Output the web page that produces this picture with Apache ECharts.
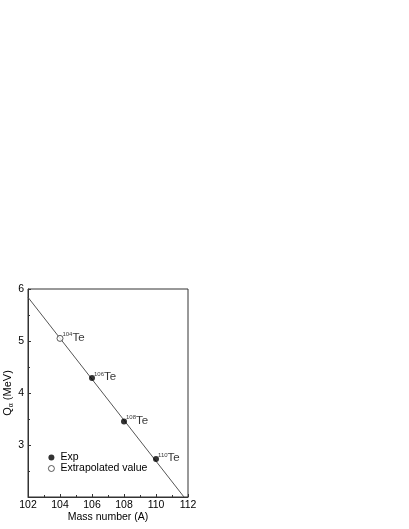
<!DOCTYPE html>
<html style="height: 100%">

<head>
    <meta charset="utf-8">
</head>

<body style="height: 100%; margin: 0; background: #fff">
    <div id="container" style="height: 100%"></div>

    <script src="https://cdn.jsdelivr.net/npm/echarts@6/dist/echarts.min.js"></script>

    <script type="text/javascript">
        // 数据
        var expMass = [106, 108, 110];
        var expQ = [4.29, 3.45, 2.73];
        var extMass = [104];
        var extQ = [5.05];
        var fitMass = [102, 111.75];
        var fitQ = [5.84, 2.0];
        var xTicks = [102, 104, 106, 108, 110, 112];
        var yTicks = [3, 4, 5, 6];

        var myChart = echarts.init(document.getElementById('container'));

        var font = "'Liberation Sans', Arial, sans-serif";

        function isoLabel(mass) {
            return '{sup|' + mass + '}{el|Te}';
        }
        var labelRich = {
            sup: { fontSize: 6, fontFamily: font, color: '#000', verticalAlign: 'top', padding: [0, 0, 5, 0] },
            el: { fontSize: 11.5, fontFamily: font, color: '#000' }
        };

        function pairs(xs, ys) {
            return xs.map(function (x, i) { return [x, ys[i]]; });
        }

        var option = {
            animation: false,
            grid: {
                left: 28,
                right: 221,
                top: 289,
                bottom: 32,
                show: true,
                borderColor: '#333',
                borderWidth: 1
            },
            legend: {
                orient: 'vertical',
                left: 43,
                top: 447,
                itemWidth: 6,
                itemHeight: 6,
                itemGap: 0,
                textStyle: { fontFamily: font, fontSize: 10.5, color: '#000', padding: [0, 0, 0, 1] },
                data: [
                    { name: 'Exp', icon: 'circle', itemStyle: { color: '#000', borderWidth: 0 } },
                    { name: 'Extrapolated value', icon: 'circle', itemStyle: { color: '#fff', borderColor: '#000', borderWidth: 0.8 } }
                ]
            },
            xAxis: {
                type: 'value',
                min: 102,
                max: 112,
                interval: 2,
                name: 'Mass number (A)',
                nameLocation: 'middle',
                nameGap: 9,
                nameTextStyle: { fontFamily: font, fontSize: 10.5, color: '#000' },
                axisLine: { lineStyle: { color: '#333' } },
                axisTick: { inside: true, length: 3, lineStyle: { color: '#333' } },
                minorTick: { show: true, splitNumber: 2, length: 2, lineStyle: { color: '#333' } },
                splitLine: { show: false },
                axisLabel: {
                    fontFamily: font, fontSize: 10.5, color: '#000', margin: 3,
                    formatter: function (v) { return xTicks.indexOf(v) >= 0 ? v : ''; }
                }
            },
            yAxis: {
                type: 'value',
                min: 2,
                max: 6,
                interval: 1,
                name: 'Q{sub|α} (MeV)',
                nameLocation: 'middle',
                nameGap: 11,
                nameRotate: 90,
                nameTextStyle: {
                    fontFamily: font, fontSize: 11, color: '#000',
                    rich: { sub: { fontSize: 7, fontFamily: font, color: '#000', verticalAlign: 'bottom', padding: [6, 0, 0, 0] } }
                },
                axisLine: { show: true, lineStyle: { color: '#333' } },
                axisTick: { inside: true, length: 3, lineStyle: { color: '#333' } },
                minorTick: { show: true, splitNumber: 2, length: 2, lineStyle: { color: '#333' } },
                splitLine: { show: false },
                axisLabel: {
                    fontFamily: font, fontSize: 10.5, color: '#000', margin: 4,
                    formatter: function (v) { return yTicks.indexOf(v) >= 0 ? v : ''; }
                }
            },
            series: [
                {
                    name: 'fit',
                    type: 'line',
                    data: pairs(fitMass, fitQ),
                    symbol: 'none',
                    lineStyle: { color: '#555', width: 1 },
                    z: 1
                },
                {
                    name: 'Exp',
                    type: 'scatter',
                    data: pairs(expMass, expQ),
                    symbol: 'circle',
                    symbolSize: 6,
                    itemStyle: { color: '#000' },
                    label: {
                        show: true,
                        position: 'right',
                        distance: 0,
                        offset: [-1, -1],
                        formatter: function (p) { return isoLabel(p.value[0]); },
                        rich: labelRich
                    },
                    z: 3
                },
                {
                    name: 'Extrapolated value',
                    type: 'scatter',
                    data: pairs(extMass, extQ),
                    symbol: 'circle',
                    symbolSize: 6,
                    itemStyle: { color: '#fff', borderColor: '#000', borderWidth: 0.8 },
                    label: {
                        show: true,
                        position: 'right',
                        distance: 0,
                        offset: [-1, -1],
                        formatter: function (p) { return isoLabel(p.value[0]); },
                        rich: labelRich
                    },
                    z: 3
                }
            ]
        };

        myChart.setOption(option);
    </script>
</body>

</html>
